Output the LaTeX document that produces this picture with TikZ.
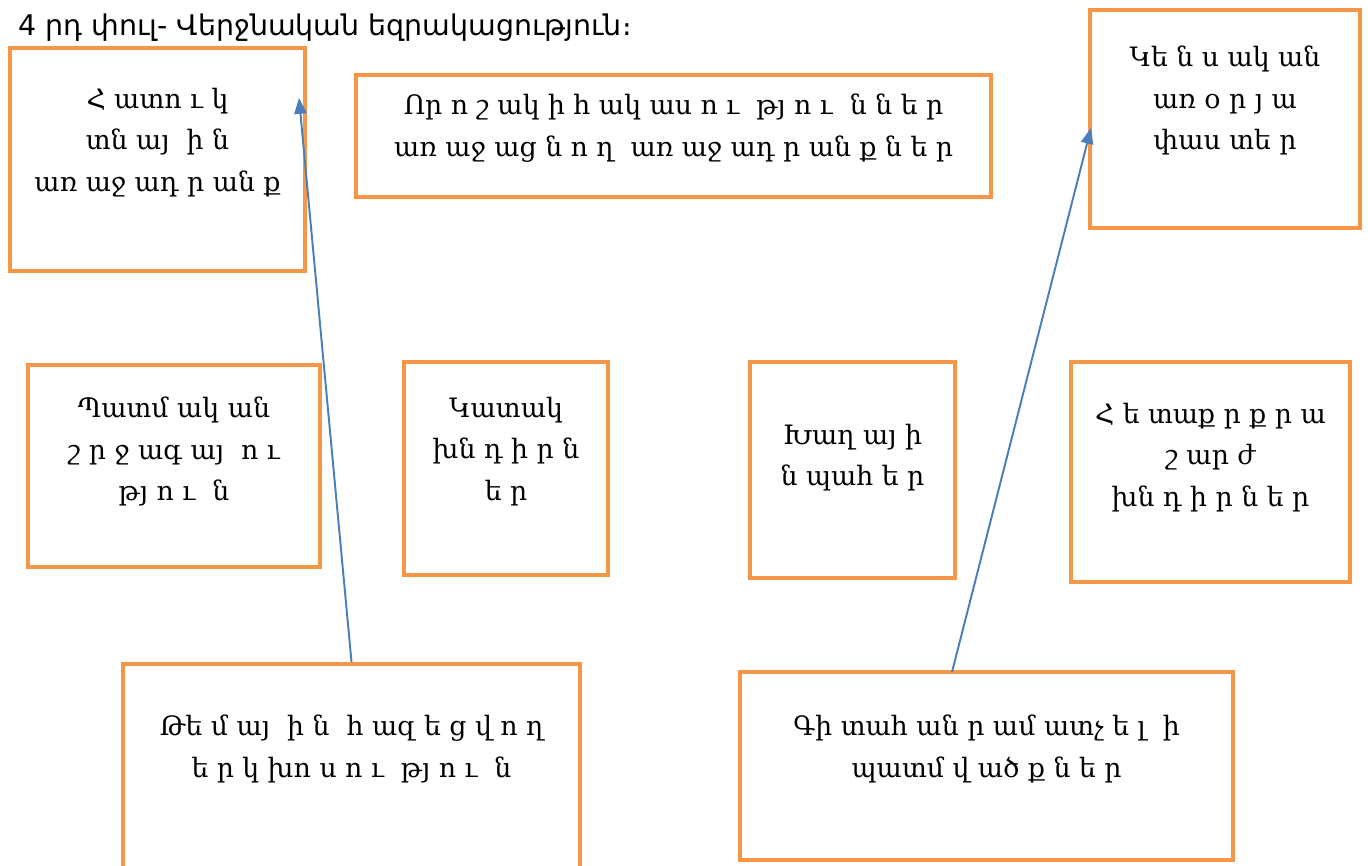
\documentclass[tikz,border=0pt]{standalone}
\usepackage{fontspec}
\setmainfont{DejaVu Serif}
\newfontfamily\titlefont{DejaVu Sans}
\usetikzlibrary{positioning,arrows.meta}
\definecolor{boxorange}{HTML}{F79646}
\definecolor{linkblue}{HTML}{4A7EBB}
\def\stagenode{\node[stage]}
\def\stagetext{\node[stagetext]}
\def\drawlink{\draw[link]}

\begin{document}
\begin{tikzpicture}[x=0.02cm,y=-0.02cm,
  stage/.style={draw=boxorange,line width=2.3pt,inner sep=0pt},
  stagetext/.style={align=center,anchor=north,inner sep=0pt,font=\fontsize{15.2}{23.5}\selectfont},
  link/.style={draw=linkblue,line width=1.1pt,-{Triangle[length=9pt,width=7pt]}}]
\clip (0,0) rectangle (1368,865);
\node[anchor=west,inner sep=0pt,font=\titlefont\fontsize{16.2}{18}\selectfont] (title) at (18,28) {4 րդ փուլ- Վերջնական եզրակացություն։};
% upper row
\stagenode[minimum width=5.9cm,minimum height=4.46cm] (b1) at (157.5,159.5) {};
\stagenode[minimum width=12.7cm,minimum height=2.44cm] (b2) at (673.5,136) {};
\stagenode[minimum width=5.4cm,minimum height=4.36cm] (b3) at (1225,119) {};
\stagetext[below=0.84cm of b1.north] (t1) {Հ ատո ւ կ\\տն այ\ \ ի ն\\առ աջ ադ ր ան ք};
\stagetext[below=0.42cm of b2.north] (t2) {Որ ո շ ակ ի հ ակ աս ո ւ\ \ թյ ո ւ\ \ ն ն ե ր\\առ աջ աց ն ո ղ\ \ առ աջ ադ ր ան ք ն ե ր};
\stagetext[below=0.76cm of b3.north] (t3) {Կե ն ս ակ ան\\առ օ ր յ ա\\փաս տե ր};
% middle row
\stagenode[minimum width=5.84cm,minimum height=4.04cm] (b4) at (174,466) {};
\stagenode[minimum width=4.08cm,minimum height=4.26cm] (b5) at (506,468.5) {};
\stagenode[minimum width=4.1cm,minimum height=4.32cm] (b6) at (852.5,470) {};
\stagenode[minimum width=5.58cm,minimum height=4.4cm] (b7) at (1210.5,472) {};
\stagetext[below=0.68cm of b4.north] (t4) {Պատմ ակ ան\\շ ր ջ ագ այ\ \ ո ւ\\թյ ո ւ\ \ ն};
\stagetext[below=0.74cm of b5.north] (t5) {Կատակ\\խն դ ի ր ն\\ե ր};
\stagetext[below=1.28cm of b6.north] (t6) {Խաղ այ ի\\ն պահ ե ր};
\stagetext[below=0.86cm of b7.north] (t7) {Հ ե տաք ր ք ր ա\\շ ար ժ\\խն դ ի ր ն ե ր};
% lower row
\stagenode[minimum width=9.14cm,minimum height=4.52cm] (b8) at (351.5,777) {};
\stagenode[minimum width=9.86cm,minimum height=3.76cm] (b9) at (986.5,766) {};
\stagetext[below=1.06cm of b8.north] (t8) {Թե մ այ\ \ ի ն\ \ հ ազ ե ց վ ո ղ\\ե ր կ խո ս ո ւ\ \ թյ ո ւ\ \ ն};
\stagetext[below=0.9cm of b9.north] (t9) {Գի տահ ան ր ամ ատչ ե լ\ \ ի\\պատմ վ ած ք ն ե ր};
% links
\coordinate (tip1) at (299,98);
\coordinate (foot2) at (952,672);
\coordinate (tip2) at (1091,128);
\drawlink (b8.north) -- (tip1);
\drawlink (foot2) -- (tip2);
\end{tikzpicture}
\end{document}
